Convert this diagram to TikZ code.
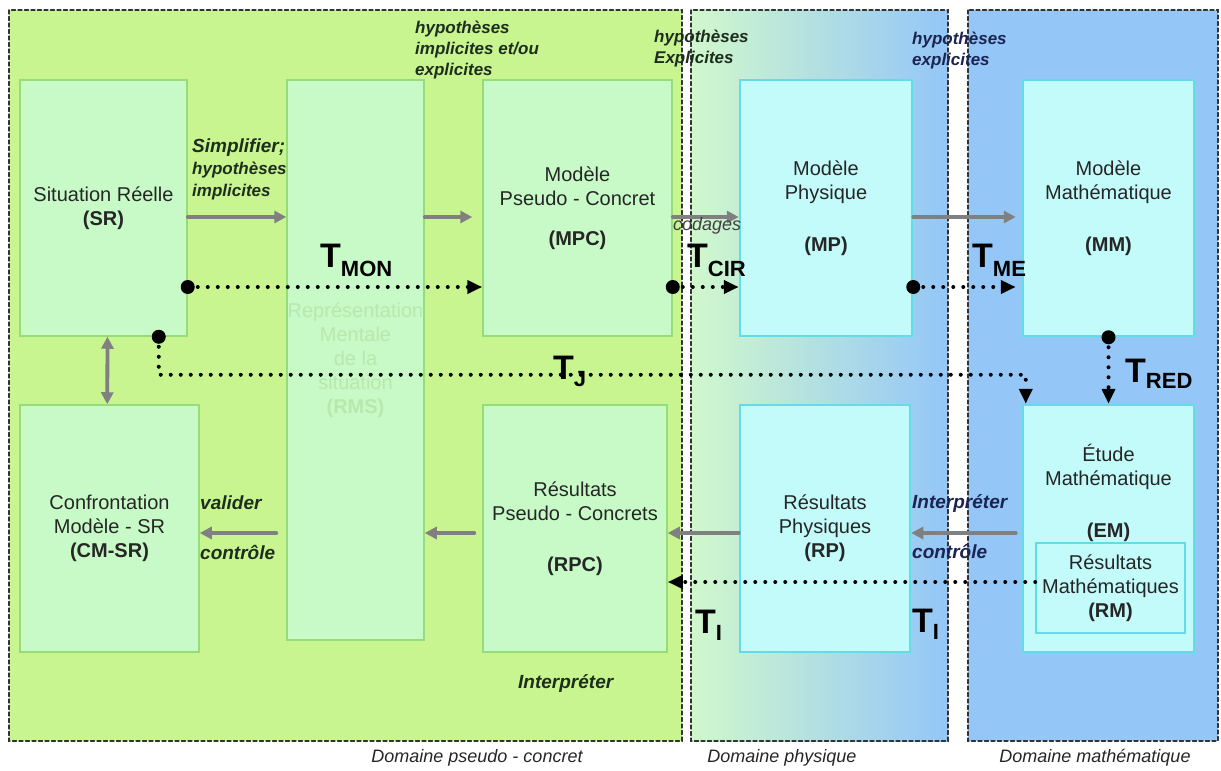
\documentclass[tikz,border=0pt]{standalone}
\usepackage{fontspec}
\setmainfont{Liberation Sans}
\usetikzlibrary{arrows.meta,calc}
\definecolor{domgreen}{HTML}{C8F590}
\definecolor{domblue}{HTML}{94C6F8}
\definecolor{domlight}{HTML}{D0F8CC}
\definecolor{boxgreen}{HTML}{C8FAC8}
\definecolor{edgegreen}{HTML}{96DC78}
\definecolor{boxcyan}{HTML}{C3FAFA}
\definecolor{edgecyan}{HTML}{64DCE6}
\definecolor{arrowgray}{HTML}{808080}
\definecolor{labnavy}{HTML}{1C2451}
\definecolor{labdark}{HTML}{1E2E1E}
\definecolor{rmsfaint}{HTML}{B8E8AC}
\newcommand{\boxfont}{\fontsize{20}{24}\selectfont}
\newcommand{\labfont}{\fontsize{19}{22}\selectfont\bfseries\itshape}
\newcommand{\hypfont}{\fontsize{17}{21}\selectfont\bfseries\itshape}
\newcommand{\tlab}[2][9pt]{{\fontsize{34}{34}\selectfont\bfseries T}{\fontsize{22}{22}\selectfont\bfseries\raisebox{-#1}{#2}}}

\begin{document}
\begin{tikzpicture}[x=1pt,y=-1pt,line cap=round,
  domframe/.style={draw=black!80,line width=1.2pt,dash pattern=on 4pt off 2.5pt},
  gbox/.style={draw=edgegreen,line width=1.5pt,fill=boxgreen,align=center,font=\boxfont,text=black!85,inner sep=0pt},
  cbox/.style={gbox,draw=edgecyan,line width=2.5pt,fill=boxcyan},
  grayarr/.style={draw=arrowgray,line width=3.8pt,-{Triangle[length=12pt,width=12pt]}},
  grayboth/.style={grayarr,{Triangle[length=12pt,width=12pt]}-{Triangle[length=12pt,width=12pt]}},
  dotarr/.style={line width=4pt,dash pattern=on 0pt off 10pt,-{Triangle[length=15pt,width=13pt]}},
  lab/.style={font=\labfont,text=labdark,inner sep=0pt},
  hyp/.style={font=\hypfont,text=labdark,inner sep=0pt,anchor=north west,align=left},
  tl/.style={anchor=base west,inner sep=0pt},
  dl/.style={anchor=base,inner sep=0pt,font=\fontsize{18}{18}\selectfont\itshape,text=black!85}]
\useasboundingbox (0,0) rectangle (1221,771);
\fill[domgreen] (9,10) rectangle (682,741);
\shade[left color=domlight,right color=domblue] (691,10) rectangle (948,741);
\fill[domblue] (968,10) rectangle (1218,741);
\foreach \a/\b in {9/682,691/948,968/1218}
  \draw[domframe] (\a,10) rectangle (\b,741);

\node[gbox,minimum width=167pt,minimum height=256pt] (sr) at (103.5,208) {Situation Réelle\\\textbf{(SR)}};
\node[gbox,minimum width=137pt,minimum height=560pt,text=rmsfaint] (rms) at (355.5,360) {Représentation\\Mentale\\de la\\situation\\\textbf{(RMS)}};
\node[gbox,minimum width=189pt,minimum height=256pt] (mpc) at (577.5,208) {Modèle\\Pseudo - Concret\\[16pt]\textbf{(MPC)}};
\node[cbox,minimum width=172pt,minimum height=256pt] (mp) at (826,208) {Modèle\\Physique\\[28pt]\textbf{(MP)}};
\node[cbox,minimum width=171pt,minimum height=256pt] (mm) at (1108.5,208) {Modèle\\Mathématique\\[28pt]\textbf{(MM)}};
\node[gbox,minimum width=179pt,minimum height=247pt] (cmsr) at (109.5,528.5) {Confrontation\\Modèle - SR\\\textbf{(CM-SR)}};
\node[gbox,minimum width=184pt,minimum height=247pt] (rpc) at (575,528.5) {Résultats\\Pseudo - Concrets\\[27pt]\textbf{(RPC)}};
\node[cbox,minimum width=170pt,minimum height=247pt] (rp) at (825,528.5) {Résultats\\Physiques\\\textbf{(RP)}};
\node[cbox,minimum width=171pt,minimum height=247pt] (em) at (1108.5,528.5) {};
\node[font=\boxfont,align=center,text=black!85] (emtext) at (1108.5,493) {Étude\\Mathématique\\[28pt]\textbf{(EM)}};
\node[cbox,line width=1.5pt,minimum width=149pt,minimum height=90pt] (rm) at (1110.5,588) {Résultats\\Mathématiques\\\textbf{(RM)}};

\coordinate (rowA) at (0,217);
\coordinate (rowB) at (0,287);
\coordinate (rowC) at (0,533);
\coordinate (rowD) at (0,582);
\draw[grayarr] (sr.east|-rowA) -- (rms.west|-rowA);
\draw[grayarr,shorten >=10pt] (rms.east|-rowA) -- (mpc.west|-rowA);
\draw[grayarr] (mpc.east|-rowA) -- (mp.west|-rowA);
\draw[grayarr,shorten >=6pt] (mp.east|-rowA) -- (mm.west|-rowA);
\draw[grayboth] ($(sr.south)+(4,0)$) -- ($(cmsr.north west)+(88,0)$);
\draw[grayarr,shorten <=10pt] (rms.west|-rowC) -- (cmsr.east|-rowC);
\draw[grayarr,shorten <=8pt] (rpc.west|-rowC) -- (rms.east|-rowC);
\draw[grayarr] (rp.west|-rowC) -- (rpc.east|-rowC);
\draw[grayarr,shorten <=6pt] (em.west|-rowC) -- (rp.east|-rowC);

\draw[dotarr] (sr.east|-rowB) -- (mpc.west|-rowB);
\draw[dotarr] (mpc.east|-rowB) -- (mp.west|-rowB);
\draw[dotarr,shorten >=6pt] (mp.east|-rowB) -- (mm.west|-rowB);
\draw[dotarr] (mm.south) -- (em.north);
\coordinate (tjstart) at ($(sr.south east)+(-29,0)$);
\coordinate (tjend) at ($(em.north west)+(4,0)$);
\draw[dotarr] (tjstart) -- ++(0,38) -| (tjend);
\draw[dotarr] (rm.west|-rowD) -- (rpc.east|-rowD);
\foreach \p in {{sr.east|-rowB},{mpc.east|-rowB},{mp.east|-rowB},{mm.south},{tjstart}}
  \fill (\p) circle (7pt);

\node[hyp] (hypa) at (415,21) {hypothèses\\implicites et/ou\\explicites};
\node[hyp] (hypb) at (654,30) {hypothèses\\Explicites};
\node[hyp,text=labnavy] (hypc) at (912,32) {hypothèses\\explicites};
\node[lab,anchor=north west,align=left] (simpl) at (192,139) {Simplifier;\\{\hypfont hypothèses}\\{\hypfont implicites}};
\node[anchor=base west,inner sep=0pt,font=\fontsize{18}{18}\selectfont\itshape,text=black!75] (cod) at (673,230) {codages};
\node[lab,anchor=base west] (valid) at (200,509) {valider};
\node[lab,anchor=base west] (ctla) at (200,559) {contrôle};
\node[lab,anchor=base west,text=labnavy] (interpa) at (912,508) {Interpréter};
\node[lab,anchor=base west,text=labnavy] (ctlb) at (912,558) {contrôle};
\node[lab,anchor=base west] (interpb) at (518,688) {Interpréter};

\node[tl] (tmon) at (320,267) {\tlab{MON}};
\node[tl] (tcir) at (687,267) {\tlab{CIR}};
\node[tl] (tme) at (972,267) {\tlab{ME}};
\node[tl] (tj) at (553,379) {\tlab[7pt]{J}};
\node[tl] (tred) at (1125,382) {\tlab[6pt]{RED}};
\node[tl] (tia) at (695,633) {\tlab[7pt]{I}};
\node[tl] (tib) at (912,632) {\tlab[7pt]{I}};

\node[dl] (dpc) at (477,762) {Domaine pseudo - concret};
\node[dl] (dph) at (782,762) {Domaine physique};
\node[dl] (dma) at (1095,762) {Domaine mathématique};
\end{tikzpicture}
\end{document}
